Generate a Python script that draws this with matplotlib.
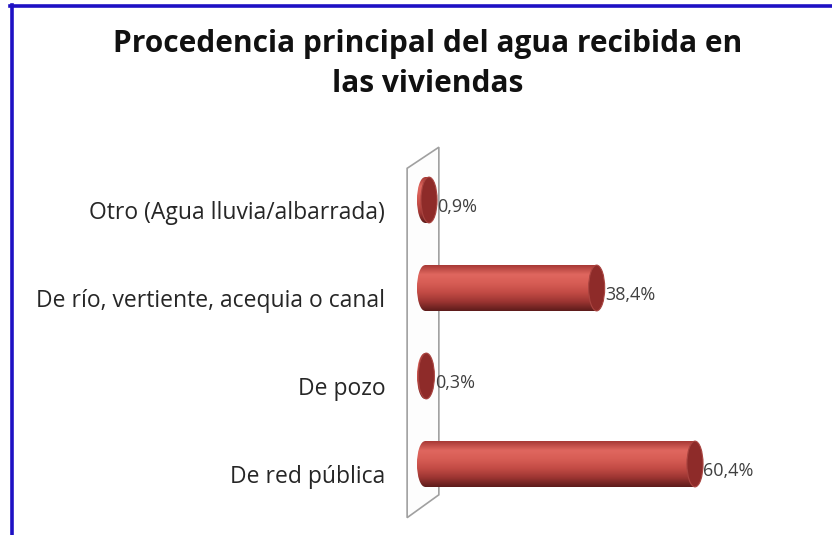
import matplotlib
matplotlib.use('Agg')
import matplotlib.pyplot as plt
import numpy as np
from matplotlib.colors import LinearSegmentedColormap
from matplotlib.patches import Ellipse, Rectangle, Polygon
from matplotlib.transforms import ScaledTranslation
from matplotlib.lines import Line2D

# Data
categorias = ['De red pública', 'De pozo', 'De río, vertiente, acequia o canal', 'Otro (Agua lluvia/albarrada)']
porcentajes = [60.4, 0.3, 38.4, 0.9]
titulo = 'Procedencia principal del agua recibida en\nlas viviendas'

plt.rcParams['font.family'] = ['Open Sans', 'DejaVu Sans']

W, H, DPI = 832, 535, 100
fig = plt.figure(figsize=(W / DPI, H / DPI), dpi=DPI)

# pixel layout
x0_px, px_per_unit = 425, 4.47
y0_px, px_per_row = 464, 88
ax_left_px, ax_top_px = 395, 130
ax = fig.add_axes([ax_left_px / W, 0, 1 - ax_left_px / W, (H - ax_top_px) / H])
ax.set_xlim((ax_left_px - x0_px) / px_per_unit, (W - x0_px) / px_per_unit)
ax.set_ylim(-(H - y0_px) / px_per_row, (y0_px - ax_top_px) / px_per_row)
for s in ax.spines.values():
    s.set_visible(False)
ax.set_xticks([])

# back wall (3D plane)
wall = Polygon([(-4.0, 3.36), (3.1, 3.60), (3.1, -0.35), (-4.0, -0.61)],
               closed=True, facecolor='#fdfdfd', edgecolor='#a0a0a0', lw=1.2, zorder=1)
ax.add_patch(wall)

cmap = LinearSegmentedColormap.from_list('cyl', ['#a83a36', '#e0675f', '#d65c54', '#c24b45', '#9c3532', '#5e1c1b'])
grad = np.linspace(0, 1, 64).reshape(-1, 1)
ew = 3.6    # ellipse width (data units)
bh = 0.52   # bar height (data units)

ypos = np.arange(len(categorias))
for y, v in zip(ypos, porcentajes):
    ext = (-ew / 2, v, y - bh / 2, y + bh / 2)
    body = Rectangle((0, y - bh / 2), v, bh, transform=ax.transData)
    left = Ellipse((0, y), ew, bh, transform=ax.transData)
    for clip in (body, left):
        im = ax.imshow(grad, cmap=cmap, extent=ext, aspect='auto', origin='upper', zorder=2)
        im.set_clip_path(clip)
    cap = Ellipse((v, y), ew, bh, facecolor='#8e2b29', edgecolor='#a94440', lw=0.8, zorder=3)
    ax.add_patch(cap)
    ax.text(v + ew / 2 + 0.1, y - 0.08, f'{v:.1f}%'.replace('.', ','), ha='left', va='center',
            fontsize=13, color='#404040', zorder=4)

ax.set_yticks(ypos)
ax.set_yticklabels(categorias, fontsize=16.5, color='#262626')
ax.tick_params(axis='y', length=0, pad=7)
for lab in ax.get_yticklabels():
    lab.set_transform(lab.get_transform() + ScaledTranslation(0, -10 / DPI, fig.dpi_scale_trans))

fig.text(428 / W, 1 - 52 / H, titulo.split('\n')[0], ha='center', va='baseline', fontsize=21.5,
         fontweight='bold', color='#111111')
fig.text(428 / W, 1 - 92 / H, titulo.split('\n')[1], ha='center', va='baseline', fontsize=21.5,
         fontweight='bold', color='#111111')

# blue frame
fig.add_artist(Line2D([10 / W, 1], [1 - 5.5 / H, 1 - 5.5 / H], color='#1e10c4', lw=2.6))
fig.add_artist(Line2D([12 / W, 12 / W], [0, 1 - 4.5 / H], color='#1e10c4', lw=2.6))

fig.savefig('out.png', dpi=DPI)
